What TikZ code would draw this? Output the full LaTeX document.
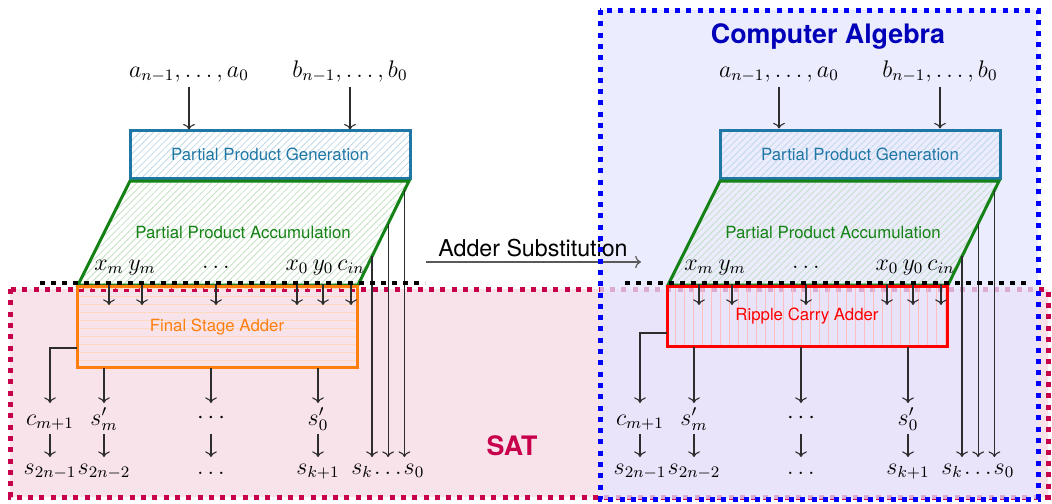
\documentclass[tikz,border=0pt]{standalone}
\usepackage{fontspec}
\setsansfont{TeX Gyre Heros}
\usetikzlibrary{patterns,patterns.meta,calc,arrows.meta}
\definecolor{ppgblue}{RGB}{31,119,165}
\definecolor{ppagreen}{RGB}{20,130,20}
\definecolor{fsaorange}{RGB}{255,127,14}
\definecolor{satred}{RGB}{200,0,75}
\definecolor{satfill}{RGB}{248,227,234}
\definecolor{cablue}{RGB}{0,0,255}
\definecolor{catext}{RGB}{0,0,185}
\definecolor{arrgray}{RGB}{45,45,45}
\tikzset{
  mathlbl/.style={inner sep=2pt, font=\fontsize{12}{14}\selectfont},
  arr/.style={->, line width=0.55pt, draw=arrgray},
  boxtxt/.style={font=\sffamily\fontsize{8.4}{10}\selectfont},
  ppgbox/.style={draw=ppgblue, line width=1.5pt,
    pattern={Lines[angle=45,distance=2.4pt,line width=0.4pt]},
    pattern color=ppgblue!28, minimum width=140pt, minimum height=24pt,
    inner sep=0pt, boxtxt, text=ppgblue},
  ppashape/.style={draw=ppagreen, line width=1.5pt, line join=miter,
    pattern={Lines[angle=45,distance=2.4pt,line width=0.4pt]},
    pattern color=ppagreen!25},
  fsabox/.style={draw=fsaorange, line width=1.5pt,
    pattern={Lines[angle=0,distance=4pt,line width=0.4pt]},
    pattern color=fsaorange!30, minimum width=140pt, inner sep=0pt, boxtxt,
    text=fsaorange},
  rcabox/.style={draw=red, line width=1.5pt,
    pattern={Lines[angle=90,distance=4.5pt,line width=0.4pt]},
    pattern color=red!25, minimum width=140pt, inner sep=0pt, boxtxt,
    text=red},
  regionborder/.style={line width=2.5pt, dash pattern=on 2.5pt off 3.15pt},
  blackdash/.style={draw=black, line width=2pt, dash pattern=on 2.7pt off 2.8pt},
}
\newcommand\mulhalf[6]{%
\begin{scope}[shift={(#2,0)}]
  \node[mathlbl, anchor=base] (#1a) at (189,77) {$a_{n-1},\ldots,a_0$};
  \node[mathlbl, anchor=base] (#1b) at (350,77) {$b_{n-1},\ldots,b_0$};
  \node[ppgbox] (#1ppg) at (270,154) {Partial Product Generation};
  \draw[arr] (#1a.south) -- (#1a.south |- #1ppg.north);
  \draw[arr] (#1b.south) -- (#1b.south |- #1ppg.north);
  \coordinate (#1tl) at (130,181);
  \coordinate (#1tr) at (409,181);
  \coordinate (#1br) at (358,285);
  \coordinate (#1bl) at (78,285);
  \draw[ppashape] (#1tl) -- (#1tr) -- (#1br) -- (#1bl) -- cycle;
  \node[boxtxt, text=ppagreen] (#1ppa) at (243,232) {Partial Product Accumulation};
  \node[#3, anchor=north, minimum height=#5] (#1add) at (217,286) {#4};
  \node[mathlbl, anchor=base] (#1xm) at (109,270) {$x_m$};
  \node[mathlbl, anchor=base] (#1ym) at (142,270) {$y_m$};
  \node[mathlbl, anchor=base] (#1id) at (216,268) {$\ldots$};
  \node[mathlbl, anchor=base] (#1xz) at (297,270) {$x_0$};
  \node[mathlbl, anchor=base] (#1yz) at (323,270) {$y_0$};
  \node[mathlbl, anchor=base] (#1ci) at (351,270) {$c_{in}$};
  \coordinate (#1ia) at (0,284);
  \coordinate (#1ib) at (0,305);
  \coordinate (#1ra) at (0,403);
  \coordinate (#1rb) at (0,434);
  \coordinate (#1rc) at (0,457);
  \coordinate (#1cy) at (0,#6);
  \node[mathlbl, anchor=base] (#1cm) at (50,425) {$c_{m+1}$};
  \node[mathlbl, anchor=base] (#1sm) at (104,425) {$s'_m$};
  \node[mathlbl, anchor=base] (#1cd) at (211,423) {$\cdots$};
  \node[mathlbl, anchor=base] (#1sz) at (318,425) {$s'_0$};
  \node[mathlbl, anchor=base] (#1ta) at (50,474) {$s_{2n-1}$};
  \node[mathlbl, anchor=base] (#1tb) at (104,474) {$s_{2n-2}$};
  \node[mathlbl, anchor=base] (#1tc) at (211,474) {$\ldots$};
  \node[mathlbl, anchor=base] (#1td) at (318,474) {$s_{k+1}$};
  \node[mathlbl, anchor=base] (#1tk) at (362,474) {$s_k$};
  \node[mathlbl, anchor=base] (#1te) at (388,474) {$\ldots$};
  \node[mathlbl, anchor=base] (#1tz) at (414,474) {$s_0$};
  \coordinate (#1p1) at ($(#1tr)!0.725!(#1br)$);
  \coordinate (#1p2) at ($(#1tr)!0.41!(#1br)$);
  \coordinate (#1p3) at ($(#1tr)!0.09!(#1br)$);
\end{scope}
  \foreach \n in {xm,ym,id,xz,yz,ci} \draw[arr] (#1\n |- #1ia) -- (#1\n |- #1ib);
  \draw[arr] (#1add.west |- #1cy) -| (#1cm |- #1ra);
  \foreach \n in {sm,cd,sz} \draw[arr] (#1\n |- #1add.south) -- (#1\n |- #1ra);
  \foreach \u/\l in {cm/ta,sm/tb,cd/tc,sz/td} \draw[arr] (#1\u |- #1rb) -- (#1\l |- #1rc);
  \foreach \p in {p1,p2,p3} \draw[arr] (#1\p) -- (#1\p |- #1rc);
}
\begin{document}
\begin{tikzpicture}[x=0.5pt, y=-0.5pt]
  \useasboundingbox (0,0) rectangle (1052,503);
  % SAT region
  \coordinate (satA) at (10,289);
  \coordinate (satB) at (1048,497);
  \fill[satfill] (satA) rectangle (satB);
  \draw[regionborder, draw=satred] (satA) rectangle (satB);
  % Computer algebra region
  \coordinate (caA) at (600,10);
  \coordinate (caB) at (1038,499);
  \fill[blue!10, fill opacity=0.75] (caA) rectangle (caB);
  \node[font=\sffamily\bfseries\fontsize{13.4}{16}\selectfont, text=catext, anchor=base] (catitle) at (828,43) {Computer Algebra};
  \node[font=\sffamily\bfseries\fontsize{13.4}{16}\selectfont, text=satred, anchor=base] (sattitle) at (512,455) {SAT};
  % two multipliers
  \mulhalf{L}{0}{fsabox}{Final Stage Adder}{40.5pt}{348}
  \mulhalf{R}{590}{rcabox}{Ripple Carry Adder}{30pt}{333}
  % black dashed boundary lines
  \coordinate (ldA) at (40,283);
  \coordinate (ldB) at (425,283);
  \coordinate (rdA) at (625,283);
  \coordinate (rdB) at (1027,283);
  \draw[blackdash] (ldA) -- (ldB);
  \draw[blackdash] (rdA) -- (rdB);
  % substitution arrow
  \node[font=\sffamily\fontsize{11.6}{14}\selectfont] (subst) at (533,248) {Adder Substitution};
  \coordinate (sA) at (426,262);
  \coordinate (sB) at (641,262);
  \draw[->, line width=0.6pt, draw=black!65] (sA) -- (sB);
  % blue border on top
  \draw[regionborder, draw=cablue] (caA) rectangle (caB);
\end{tikzpicture}
\end{document}
